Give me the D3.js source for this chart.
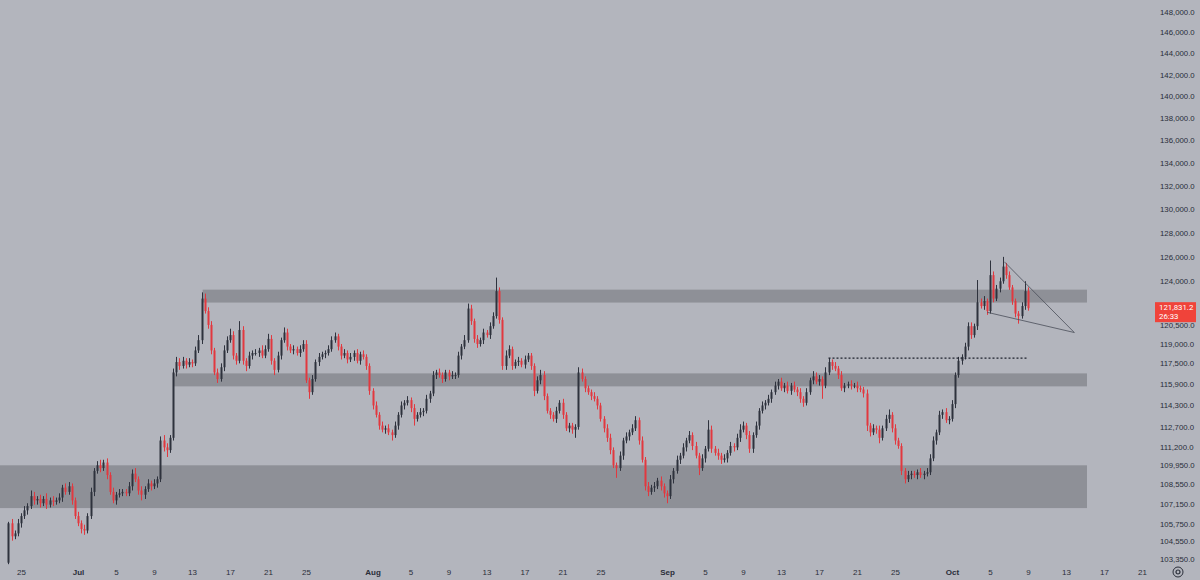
<!DOCTYPE html>
<html>
<head>
<meta charset="utf-8">
<script src="https://cdn.jsdelivr.net/npm/d3@7"></script>
<style>
  body { margin: 0; background: #b3b5bd; }
  svg { display: block; font-family: Roboto, "Noto Sans", sans-serif; }
</style>
</head>
<body>
<div class="vis"></div>
<script>
// 8h candles, first one opens Jun 23 16:00, prices in thousands
var firstCandle = Date.UTC(2025, 5, 23, 16)
var candleHours = 8
var firstOpen = 103.1

var closes = [
  105.8,
  104.9, 105.1, 105.8,  // jun 24
  106.3, 106.7, 107.0,
  107.7, 107.4, 107.5,
  107.2, 107.5, 107.1,
  107.4, 107.3, 107.4,
  107.6, 108.3, 108.0,
  108.4, 107.4, 106.3,  // jun 30
  105.8, 105.4, 105.3,  // jul 1
  106.3, 108.0, 109.5,
  109.9, 109.7, 110.1,
  109.2, 108.0, 107.4,
  107.8, 107.9, 108.0,
  107.9, 108.4, 109.3,
  108.9, 108.1, 107.8,
  108.2, 108.6, 108.4,
  108.6, 108.9, 111.7,
  111.2, 111.0, 111.9,  // jul 10
  116.8, 117.6, 117.3,
  117.7, 117.4, 117.6,
  117.5, 118.5, 119.3,
  122.6, 121.6, 120.5,
  118.5, 116.8, 116.3,
  117.2, 118.5, 119.3,
  119.7, 118.1, 117.7,
  120.1, 117.7, 117.3,
  118.1, 118.3, 118.3,
  118.5, 118.1, 118.6,  // jul 20
  119.4, 117.7, 117.0,
  118.1, 119.3, 119.9,
  118.8, 118.5, 118.6,
  118.3, 118.6, 119.0,
  116.2, 115.3, 116.3,
  117.6, 118.0, 118.2,
  118.3, 118.6, 119.3,
  119.6, 118.8, 118.1,
  118.3, 117.8, 118.0,
  118.3, 117.7, 118.2,  // jul 30
  118.0, 117.3, 115.4,
  114.3, 113.6, 112.8,  // aug 1
  112.5, 112.6, 112.3,
  112.1, 112.8, 113.6,
  114.3, 114.5, 114.7,
  114.1, 113.3, 113.6,
  113.8, 113.9, 114.8,
  115.2, 116.6, 116.8,
  116.6, 116.3, 116.8,
  116.5, 116.6, 116.6,
  118.1, 118.8, 119.3,  // aug 10
  121.8, 120.8, 119.4,
  119.0, 119.3, 119.9,
  119.7, 120.4, 121.2,
  123.2, 120.9, 117.3,
  118.1, 118.6, 117.3,
  117.6, 117.7, 117.4,
  117.8, 118.1, 117.3,
  115.4, 116.2, 116.6,
  115.0, 113.9, 113.6,
  113.3, 113.9, 114.5,  // aug 20
  113.6, 112.6, 112.8,
  112.5, 112.7, 116.8,
  116.3, 115.6, 115.3,
  115.0, 114.8, 114.3,
  113.3, 112.6, 111.9,
  111.0, 109.9, 109.7,
  110.6, 111.7, 112.0,
  112.3, 112.6, 113.2,
  111.7, 110.3, 108.4,
  108.0, 108.3, 108.4,  // aug 30
  108.8, 108.4, 107.9,
  107.7, 108.9, 109.5,  // sep 1
  110.3, 110.6, 111.2,
  111.7, 112.1, 111.3,
  110.6, 109.7, 110.4,
  111.1, 112.5, 111.1,
  110.8, 110.6, 110.3,
  110.4, 110.8, 111.3,
  111.2, 111.9, 112.5,
  112.8, 112.1, 111.1,
  112.1, 112.8, 113.9,  // sep 10
  114.3, 114.5, 114.8,
  115.3, 115.8, 116.1,
  115.6, 115.8, 115.4,
  115.8, 115.5, 115.3,
  114.8, 114.5, 115.3,
  116.2, 116.5, 116.1,
  116.3, 115.8, 116.8,
  117.6, 117.3, 117.1,
  116.6, 115.6, 115.8,
  115.9, 115.8, 115.8,  // sep 20
  115.6, 115.5, 115.2,
  112.8, 112.3, 112.6,
  112.5, 111.9, 112.6,
  113.3, 113.6, 112.6,
  111.7, 111.3, 109.5,
  108.9, 109.2, 109.3,
  109.2, 109.4, 109.2,
  109.3, 109.4, 110.4,
  111.7, 112.3, 113.6,
  113.8, 113.2, 113.3,  // sep 30
  114.4, 116.6, 117.7,  // oct 1
  118.0, 118.8, 120.4,
  119.7, 120.4, 122.3,
  122.0, 122.4, 121.6,
  124.5, 122.6, 123.4,
  124.0, 125.2, 124.5,
  123.5, 122.4, 121.4,
  121.2, 122.0, 123.2,
  121.8312
]

var wickUp = [
  0.1,
  0.3,0.2,0.3, 0.2,0.3,0.2, 0.4,0.3,0.2, 0.3,0.2,0.4, 0.2,0.3,0.2, 0.3,0.2,0.3, 0.3,0.2,0.2,
  0.3,0.2,0.3, 0.2,0.3,0.2, 0.3,0.4,0.2, 0.3,0.2,0.3, 0.2,0.3,0.2, 0.2,0.3,0.3, 0.4,0.2,0.3, 0.2,0.3,0.2, 0.3,0.2,0.3,
  0.4,0.3,0.2, 0.3,0.4,0.3, 0.3,0.2,0.3, 0.2,0.3,0.4, 0.5,0.4,0.3, 0.3,0.2,0.3, 0.3,0.4,0.3, 0.5,0.3,0.2, 0.7,0.3,0.2, 0.3,0.2,0.3,
  0.2,0.4,0.3, 0.4,0.3,0.2, 0.3,0.2,0.4, 0.3,0.2,0.3, 0.2,0.3,0.3, 0.3,0.2,0.3, 0.2,0.3,0.2, 0.2,0.3,0.3, 0.3,0.2,0.2, 0.3,0.2,0.3,
  0.2,0.3,0.2, 0.3,0.2,0.2,
  0.2,0.3,0.2, 0.3,0.2,0.3, 0.2,0.3,0.2, 0.3,0.2,0.3, 0.2,0.3,0.2, 0.3,0.2,0.3, 0.2,0.3,0.2, 0.3,0.2,0.2, 0.2,0.3,0.2,
  0.3,0.2,0.4, 0.4,0.3,0.2, 0.3,0.2,0.3, 0.2,0.3,0.3, 1.1,0.3,0.2, 0.4,0.3,0.2, 0.2,0.3,0.2, 0.3,0.2,0.2, 0.2,0.3,0.4, 0.3,0.2,0.2,
  0.2,0.3,0.2, 0.3,0.2,0.2, 0.2,0.2,0.4, 0.3,0.2,0.2, 0.2,0.3,0.2, 0.2,0.2,0.3, 0.3,0.2,0.2, 0.3,0.2,0.3, 0.2,0.3,0.3, 0.2,0.3,0.2,
  0.3,0.2,0.3, 0.2,0.3,0.2,
  0.2,0.3,0.2, 0.3,0.2,0.3, 0.2,0.3,0.2, 0.3,0.2,0.3, 0.2,0.7,0.3, 0.2,0.3,0.2, 0.3,0.2,0.3, 0.2,0.3,0.4, 0.3,0.2,0.3,
  0.2,0.3,0.2, 0.3,0.2,0.3, 0.2,0.3,0.2, 0.3,0.2,0.3, 0.2,0.3,0.2, 0.3,0.2,0.3, 0.2,0.4,0.3, 0.3,0.2,0.4, 0.3,0.2,0.3, 0.2,0.3,0.2,
  0.2,0.3,0.2, 0.3,0.2,0.2, 0.3,0.2,0.3, 0.2,0.3,0.2, 0.3,0.4,0.2, 0.3,0.2,0.2, 0.2,0.3,0.2, 0.2,0.2,0.3, 0.2,0.3,0.3, 0.3,0.2,0.3,
  0.2,0.3,0.2,
  0.3,0.2,0.3, 0.2,0.3,0.3, 0.3,0.2,1.8, 0.3,0.4,0.2, 1.2,0.3,0.3, 0.3,0.8,0.3, 0.3,0.2,0.2, 0.2,0.3,0.8,
  0.3
]

var wickDn = [
  0.1,
  0.3,0.2,0.2, 0.3,0.2,0.3, 0.2,0.3,0.3, 0.3,0.2,0.3, 0.2,0.3,0.2, 0.2,0.3,0.2, 0.2,0.3,0.2,
  0.2,0.3,0.3, 0.2,0.2,0.3, 0.2,0.3,0.2, 0.3,0.2,0.2, 0.3,0.2,0.2, 0.2,0.2,0.3, 0.2,0.3,0.4, 0.3,0.2,0.3, 0.2,0.3,0.2,
  0.3,0.5,0.2, 0.2,0.3,0.3, 0.2,0.3,0.2, 0.3,0.2,0.2, 0.3,0.2,0.3, 0.3,0.2,0.3, 0.2,0.3,0.2, 0.2,0.3,0.3, 0.2,0.3,0.4, 0.2,0.3,0.2,
  0.3,0.2,0.2, 0.2,0.3,0.4, 0.2,0.3,0.2, 0.3,0.2,0.3, 0.2,0.3,0.2, 0.2,0.5,0.2, 0.2,0.3,0.2, 0.3,0.2,0.2, 0.2,0.3,0.3, 0.2,0.3,0.2,
  0.3,0.2,0.3, 0.2,0.3,0.3,
  0.3,0.2,0.3, 0.2,0.3,0.2, 0.4,0.2,0.3, 0.2,0.3,0.2, 0.3,0.5,0.2, 0.2,0.3,0.2, 0.3,0.2,0.3, 0.2,0.3,0.2, 0.3,0.2,0.3,
  0.2,0.3,0.2, 0.2,0.3,0.3, 0.3,0.2,0.3, 0.2,0.3,0.2, 0.2,0.3,0.3, 0.3,0.2,0.3, 0.2,0.3,0.2, 0.3,0.2,0.3, 0.4,0.2,0.3, 0.3,0.2,0.3,
  0.2,0.3,0.2, 0.3,0.2,0.3, 0.3,0.6,0.2, 0.2,0.3,0.2, 0.3,0.2,0.3, 0.2,0.3,0.3, 0.3,0.2,0.7, 0.2,0.3,0.2, 0.3,0.2,0.2, 0.3,0.2,0.3,
  0.3,0.2,0.3, 0.2,0.3,0.3,
  0.5,0.2,0.3, 0.2,0.3,0.2, 0.3,0.2,0.3, 0.2,0.5,0.2, 0.3,0.2,0.3, 0.2,0.3,0.3, 0.2,0.3,0.2, 0.3,0.2,0.3, 0.2,0.3,0.3,
  0.3,0.2,0.3, 0.2,0.3,0.2, 0.3,0.2,0.3, 0.2,0.3,0.2, 0.3,0.2,0.3, 0.3,0.3,0.2, 0.2,0.3,0.2, 0.3,1.0,0.2, 0.2,0.3,0.2, 0.3,0.2,0.3,
  0.2,0.3,0.2, 0.3,0.2,0.3, 0.4,0.3,0.2, 0.3,0.4,0.2, 0.2,0.3,0.3, 0.3,0.2,0.3, 0.3,0.2,0.3, 0.2,0.3,0.2, 0.3,0.2,0.2, 0.2,0.3,0.2,
  0.3,0.2,0.3,
  0.2,0.3,0.2, 0.3,0.2,0.3, 0.3,0.2,0.3, 0.2,0.3,0.3, 0.2,0.3,0.2, 0.3,0.2,0.3, 0.2,0.3,0.3, 0.6,0.2,0.3,
  0.2
]

// grey supply / demand zones (prices in thousands)
var zoneStart = [Date.UTC(2025, 6, 14, 3), Date.UTC(2025, 6, 11, 0), Date.UTC(2025, 5, 20)]
var zoneEnd = Date.UTC(2025, 9, 15, 5)
var zoneTop = [123.32, 116.73, 109.9]
var zoneBottom = [122.28, 115.74, 106.86]

// dotted level and wedge lines
var levelPrice = 117.9
var levelFrom = Date.UTC(2025, 8, 18, 0)
var levelTo = Date.UTC(2025, 9, 9, 0)
var wedgeApex = {t: Date.UTC(2025, 9, 13, 21), p: 119.9}
var wedgeUpper = {t: Date.UTC(2025, 9, 6, 12), p: 125.6}
var wedgeLower = {t: Date.UTC(2025, 9, 4, 17), p: 121.5}

var yTicks = [148000, 146000, 144000, 142000, 140000, 138000, 136000, 134000, 132000, 130000, 128000,
  126000, 124000, 120500, 119000, 117500, 115900, 114300, 112700, 111200, 109950, 108550,
  107150, 105750, 104550, 103350]
var xTicks = [
  [Date.UTC(2025,5,25), "25"], [Date.UTC(2025,6,1), "Jul"], [Date.UTC(2025,6,5), "5"], [Date.UTC(2025,6,9), "9"],
  [Date.UTC(2025,6,13), "13"], [Date.UTC(2025,6,17), "17"], [Date.UTC(2025,6,21), "21"], [Date.UTC(2025,6,25), "25"],
  [Date.UTC(2025,7,1), "Aug"], [Date.UTC(2025,7,5), "5"], [Date.UTC(2025,7,9), "9"], [Date.UTC(2025,7,13), "13"],
  [Date.UTC(2025,7,17), "17"], [Date.UTC(2025,7,21), "21"], [Date.UTC(2025,7,25), "25"],
  [Date.UTC(2025,8,1), "Sep"], [Date.UTC(2025,8,5), "5"], [Date.UTC(2025,8,9), "9"], [Date.UTC(2025,8,13), "13"],
  [Date.UTC(2025,8,17), "17"], [Date.UTC(2025,8,21), "21"], [Date.UTC(2025,8,25), "25"],
  [Date.UTC(2025,9,1), "Oct"], [Date.UTC(2025,9,5), "5"], [Date.UTC(2025,9,9), "9"], [Date.UTC(2025,9,13), "13"],
  [Date.UTC(2025,9,17), "17"], [Date.UTC(2025,9,21), "21"]
]
var lastPrice = "121,831.2"
var countdown = "26:33"

var width = 1200, height = 580
var upColor = "#2e323d", downColor = "#e2383f"

var candles = closes.map(function(c, i) {
  var o = i == 0 ? firstOpen : closes[i - 1]
  return {
    t: new Date(firstCandle + i * candleHours * 3600e3),
    o: o * 1000, c: c * 1000,
    h: (Math.max(o, c) + wickUp[i]) * 1000,
    l: (Math.min(o, c) - wickDn[i]) * 1000
  }
})

var x = d3.scaleUtc()
    .domain([Date.UTC(2025, 6, 1), Date.UTC(2025, 9, 1)])
    .range([78, 952])
var y = d3.scaleLog()
    .domain([103350, 148000])
    .range([559, 11.5])

var svg = d3.select(".vis").append("svg")
    .attr("width", width)
    .attr("height", height)

svg.append("rect").attr("width", width).attr("height", height).attr("fill", "#b3b5bd")

// zones
svg.append("g").selectAll("rect").data(zoneTop)
  .enter().append("rect")
    .attr("x", function(d, i) { return Math.max(0, x(zoneStart[i])) })
    .attr("width", function(d, i) { return x(zoneEnd) - Math.max(0, x(zoneStart[i])) })
    .attr("y", function(d) { return y(d * 1000) })
    .attr("height", function(d, i) { return y(zoneBottom[i] * 1000) - y(d * 1000) })
    .attr("fill", "#8e9097")

// candles
var cg = svg.append("g")
cg.selectAll("line").data(candles)
  .enter().append("line")
    .attr("x1", function(d) { return Math.round(x(d.t)) + 0.5 })
    .attr("x2", function(d) { return Math.round(x(d.t)) + 0.5 })
    .attr("y1", function(d) { return y(d.h) })
    .attr("y2", function(d) { return y(d.l) })
    .attr("stroke", function(d) { return d.c >= d.o ? upColor : downColor })
    .attr("stroke-width", 1)
cg.selectAll("rect").data(candles)
  .enter().append("rect")
    .attr("x", function(d) { return Math.round(x(d.t)) - 0.5 })
    .attr("width", 2)
    .attr("y", function(d) { return y(Math.max(d.o, d.c)) })
    .attr("height", function(d) { return Math.max(1, Math.abs(y(d.o) - y(d.c))) })
    .attr("fill", function(d) { return d.c >= d.o ? upColor : downColor })

// dotted level
svg.append("line")
    .attr("x1", x(levelFrom)).attr("x2", x(levelTo))
    .attr("y1", y(levelPrice * 1000)).attr("y2", y(levelPrice * 1000))
    .attr("stroke", "#1e222d")
    .attr("stroke-width", 1.2)
    .attr("stroke-dasharray", "2,2")

// wedge
var wedge = svg.append("g").attr("stroke", "#4a4e59").attr("stroke-width", 0.8).attr("fill", "none")
;[wedgeUpper, wedgeLower].forEach(function(w) {
  wedge.append("line")
    .attr("x1", x(w.t)).attr("y1", y(w.p * 1000))
    .attr("x2", x(wedgeApex.t)).attr("y2", y(wedgeApex.p * 1000))
})

// price axis
var yAxis = d3.axisRight(y)
    .tickValues(yTicks)
    .tickFormat(d3.format(",.1f"))
    .tickSize(0)
var ya = svg.append("g")
    .attr("transform", "translate(1160,0)")
    .call(yAxis)
ya.select(".domain").remove()
ya.selectAll("text")
    .attr("x", 0)
    .attr("fill", "#2a2e39")
    .style("font-size", "7.8px")

// time axis
var xAxis = d3.axisBottom(x)
    .tickValues(xTicks.map(function(d) { return d[0] }))
    .tickFormat(function(d, i) { return xTicks[i][1] })
    .tickSize(0)
var xa = svg.append("g")
    .attr("transform", "translate(0,566)")
    .call(xAxis)
xa.select(".domain").remove()
xa.selectAll("text")
    .attr("fill", "#2a2e39")
    .style("font-size", "8px")
    .style("font-weight", function(d, i) { return isNaN(+xTicks[i][1]) ? "bold" : "normal" })

// last price tag
var tag = svg.append("g").attr("transform", "translate(1155," + (y(closes[closes.length - 1] * 1000) - 6) + ")")
tag.append("rect").attr("width", 41).attr("height", 20).attr("fill", "#f0433a")
tag.append("text").attr("x", 4).attr("y", 8).text(lastPrice)
    .attr("fill", "#fff").style("font-size", "7.8px")
tag.append("text").attr("x", 4).attr("y", 17).text(countdown)
    .attr("fill", "#fff").style("font-size", "7.8px")

// settings icon
var ic = svg.append("g").attr("transform", "translate(1178,572)").attr("fill", "none").attr("stroke", "#2a2e39")
ic.append("circle").attr("r", 5).attr("stroke-width", 1)
ic.append("circle").attr("r", 2).attr("stroke-width", 1.2)
</script>
</body>
</html>
